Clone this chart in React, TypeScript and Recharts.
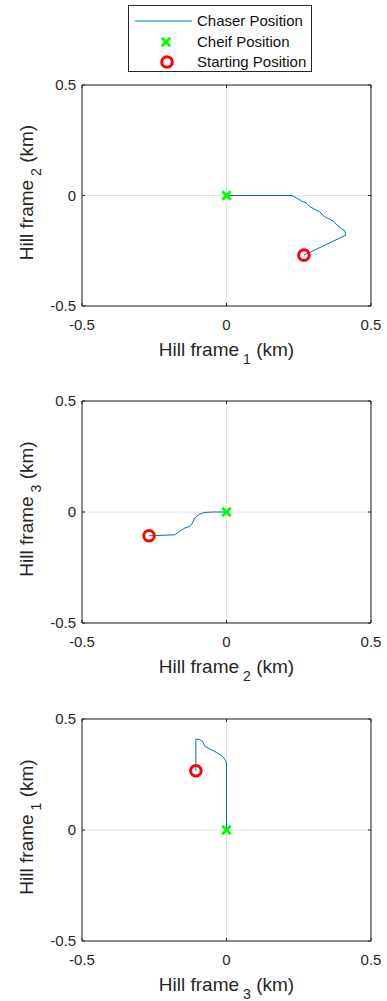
import React from 'react';
import {
    ScatterChart,
    Scatter,
    XAxis,
    YAxis,
    CartesianGrid,
    ReferenceArea,
    ReferenceLine,
    Legend
} from 'recharts';

const TICKS = [-0.5, 0, 0.5];

// chaser path, start -> chief, projected on each Hill plane [x, y]
const path12: [number, number][] = [
    [0.268, -0.27], [0.412, -0.18], [0.41, -0.161], [0.399, -0.151], [0.384, -0.136],
    [0.37, -0.116], [0.352, -0.104], [0.337, -0.094], [0.324, -0.075], [0.306, -0.063],
    [0.289, -0.051], [0.275, -0.033], [0.26, -0.026], [0.243, -0.011], [0.226, 0], [0, 0]
];
const path23: [number, number][] = [
    [-0.268, -0.107], [-0.179, -0.103], [-0.162, -0.087], [-0.144, -0.072], [-0.127, -0.065],
    [-0.118, -0.05], [-0.11, -0.027], [-0.092, -0.009], [-0.075, -0.002], [-0.046, 0], [0, 0]
];
const path31: [number, number][] = [
    [-0.106, 0.267], [-0.106, 0.41], [-0.092, 0.407], [-0.081, 0.395], [-0.075, 0.377],
    [-0.058, 0.365], [-0.035, 0.35], [-0.017, 0.335], [-0.009, 0.324], [-0.002, 0.309],
    [0, 0.294], [0, 0]
];

const chief: [number, number] = [0, 0];
const start12: [number, number] = [0.268, -0.27];
const start23: [number, number] = [-0.268, -0.107];
const start31: [number, number] = [-0.106, 0.267];

const legendLabels = ['Chaser Position', 'Cheif Position', 'Starting Position'];

const FONT = '"Liberation Sans", Arial, Helvetica, sans-serif';
const AXIS = '#262626';
const BLUE = '#0072BD';
const GREEN = '#00ff00';
const RED = '#ff0000';

const toPts = (arr: [number, number][]) => arr.map(([x, y]) => ({ x, y }));

const GreenX = ({ cx, cy }: any) => {
    const s = 4.2;
    return (
        <g>
            <line x1={cx - s} y1={cy - s} x2={cx + s} y2={cy + s} stroke={GREEN} strokeWidth={3} />
            <line x1={cx - s} y1={cy + s} x2={cx + s} y2={cy - s} stroke={GREEN} strokeWidth={3} />
        </g>
    );
};

const RedO = ({ cx, cy }: any) => (
    <circle cx={cx} cy={cy} r={5.3} fill="none" stroke={RED} strokeWidth={3} />
);

const XLabel = ({ viewBox, sub }: any) => {
    const vb = viewBox || { x: 82, y: 306, width: 289 };
    return (
        <text x={vb.x + vb.width / 2} y={vb.y + 50} textAnchor="middle" fontSize={19} fill={AXIS} fontFamily={FONT}>
            Hill frame
            <tspan dx={4} dy={8} fontSize={14}>{sub}</tspan>
            <tspan dy={-8}> (km)</tspan>
        </text>
    );
};

const YLabel = ({ viewBox, sub }: any) => {
    const vb = viewBox || { x: 0, y: 85, width: 82, height: 221 };
    const cx = vb.x + 33;
    const cy = vb.y + vb.height / 2 - 3;
    return (
        <text x={cx} y={cy} transform={`rotate(-90, ${cx}, ${cy})`} textAnchor="middle" fontSize={19} fill={AXIS} fontFamily={FONT}>
            Hill frame
            <tspan dx={4} dy={8} fontSize={14}>{sub}</tspan>
            <tspan dy={-8}> (km)</tspan>
        </text>
    );
};

const LegendBox = () => (
    <div
        style={{
            width: 184,
            height: 67,
            border: `1px solid ${AXIS}`,
            background: '#fff',
            boxSizing: 'border-box',
            position: 'relative',
            fontFamily: FONT,
            fontSize: 15,
            color: '#111'
        }}
    >
        <svg width={68} height={65} style={{ position: 'absolute', left: 0, top: 0 }}>
            <line x1={6} y1={15} x2={63} y2={15} stroke={BLUE} strokeWidth={1} />
            <GreenX cx={37} cy={36} />
            <RedO cx={38} cy={56} />
        </svg>
        {legendLabels.map((t, i) => (
            <div key={t} style={{ position: 'absolute', left: 68, top: 6 + i * 20.5, lineHeight: '18px', whiteSpace: 'nowrap' }}>
                {t}
            </div>
        ))}
    </div>
);

interface PanelProps {
    path: [number, number][];
    start: [number, number];
    xSub: string;
    ySub: string;
    top: number;
    height: number;
    showLegend?: boolean;
}

const TL_X = 3 / 289;
const TL_Y = 3 / 222;

const Panel: React.FC<PanelProps> = ({ path, start, xSub, ySub, top, height, showLegend }) => (
    <ScatterChart width={387} height={height} margin={{ top, right: 16, bottom: 0, left: 0 }}>
        <CartesianGrid stroke="#e2e2e2" strokeWidth={1} />
        <XAxis
            type="number"
            dataKey="x"
            domain={[-0.5, 0.5]}
            ticks={TICKS}
            interval={0}
            allowDataOverflow
            axisLine={false}
            tickLine={false}
            tickSize={0}
            tickMargin={13}
            height={60}
            tick={{ fill: AXIS, fontSize: 15, fontFamily: FONT }}
            label={<XLabel sub={xSub} />}
        />
        <YAxis
            type="number"
            dataKey="y"
            domain={[-0.5, 0.5]}
            ticks={TICKS}
            interval={0}
            allowDataOverflow
            axisLine={false}
            tickLine={false}
            tickSize={0}
            tickMargin={6}
            width={82}
            tick={{ fill: AXIS, fontSize: 15, fontFamily: FONT }}
            label={<YLabel sub={ySub} />}
        />
        <ReferenceArea x1={-0.5} x2={0.5} y1={-0.5} y2={0.5} fill="none" fillOpacity={0} stroke={AXIS} strokeWidth={1} />
        {TICKS.map(t => (
            <ReferenceLine key={`bx${t}`} segment={[{ x: t, y: -0.5 }, { x: t, y: -0.5 + TL_Y }]} stroke={AXIS} />
        ))}
        {TICKS.map(t => (
            <ReferenceLine key={`tx${t}`} segment={[{ x: t, y: 0.5 }, { x: t, y: 0.5 - TL_Y }]} stroke={AXIS} />
        ))}
        {TICKS.map(t => (
            <ReferenceLine key={`ly${t}`} segment={[{ x: -0.5, y: t }, { x: -0.5 + TL_X, y: t }]} stroke={AXIS} />
        ))}
        {TICKS.map(t => (
            <ReferenceLine key={`ry${t}`} segment={[{ x: 0.5, y: t }, { x: 0.5 - TL_X, y: t }]} stroke={AXIS} />
        ))}
        <Scatter
            data={toPts(path)}
            line={{ stroke: BLUE, strokeWidth: 1 }}
            lineType="joint"
            shape={() => <g />}
            legendType="none"
            isAnimationActive={false}
        />
        <Scatter data={toPts([chief])} shape={<GreenX />} legendType="none" isAnimationActive={false} />
        <Scatter data={toPts([start])} shape={<RedO />} legendType="none" isAnimationActive={false} />
        {showLegend && (
            <Legend
                layout="vertical"
                align="center"
                verticalAlign="middle"
                content={() => <LegendBox />}
                wrapperStyle={{ left: 128, top: 5, width: 184, height: 67 }}
            />
        )}
    </ScatterChart>
);

export default function App() {
    return (
        <div style={{ position: 'absolute', left: 0, top: 0, width: 387, height: 1001, background: '#fff' }}>
            <div style={{ position: 'absolute', left: 0, top: 0 }}>
                <Panel path={path12} start={start12} xSub="1" ySub="2" top={85} height={366} showLegend />
            </div>
            <div style={{ position: 'absolute', left: 0, top: 371 }}>
                <Panel path={path23} start={start23} xSub="2" ySub="3" top={30} height={312} />
            </div>
            <div style={{ position: 'absolute', left: 0, top: 689 }}>
                <Panel path={path31} start={start31} xSub="3" ySub="1" top={30} height={312} />
            </div>
        </div>
    );
}
